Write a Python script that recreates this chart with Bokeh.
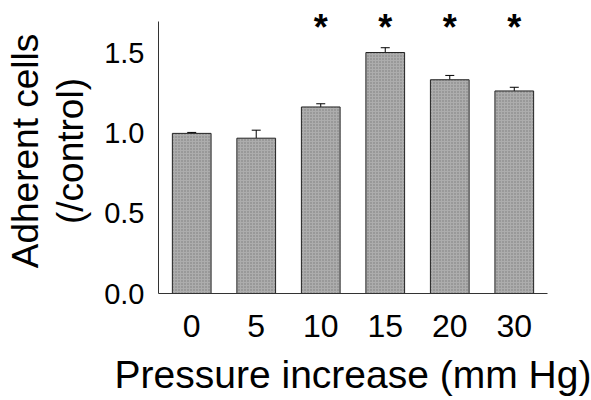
from bokeh.plotting import figure
from bokeh.models import (ColumnDataSource, FactorRange, Range1d, FixedTicker,
                          NumeralTickFormatter, Whisker, TeeHead)
from bokeh.core.properties import value
from bokeh.embed import file_html
from bokeh.resources import INLINE

pressure = ["0", "5", "10", "15", "20", "30"]
adherent = [1.00, 0.97, 1.165, 1.505, 1.335, 1.265]
sem = [0.006, 0.05, 0.02, 0.03, 0.027, 0.023]
signif = ["", "", "*", "*", "*", "*"]
star_level = 1.69
axis_top = 1.70
y_ticks = [0.0, 0.5, 1.0, 1.5]

upper = [a + e for a, e in zip(adherent, sem)]
star_y = [star_level] * len(pressure)
src = ColumnDataSource(dict(x=pressure, top=adherent, upper=upper,
                            sig=signif, sy=star_y))

FONT = "Liberation Sans"

p = figure(x_range=FactorRange(*pressure, range_padding=0.005),
           y_range=Range1d(0, 1.78),
           width=590, height=398, output_backend="svg",
           toolbar_location=None,
           min_border_left=158, min_border_right=43,
           min_border_top=8, min_border_bottom=105)

p.vbar(x="x", top="top", bottom=0, width=0.6, source=src,
       fill_color="#adadad", line_color="#222222", line_width=1,
       hatch_pattern="dot", hatch_color="#555555", hatch_scale=3,
       hatch_weight=1, hatch_alpha=0.6)

p.add_layout(Whisker(base="x", upper="upper", lower="top", source=src,
                     line_color="black", line_width=1,
                     upper_head=TeeHead(size=9, line_color="black", line_width=1),
                     lower_head=None))

p.text(x="x", y="sy", text="sig", source=src, text_align="center",
       text_baseline="middle", text_font=value(FONT),
       text_font_size="36px", text_font_style="bold",
       text_color="black", y_offset=5)

p.grid.visible = False
p.outline_line_color = None
p.background_fill_color = "white"
p.border_fill_color = "white"

for ax in (p.xaxis, p.yaxis):
    ax.major_tick_out = 0
    ax.major_tick_in = 0
    ax.minor_tick_out = 0
    ax.minor_tick_in = 0
    ax.axis_line_color = "#333333"
    ax.axis_line_width = 1
    ax.major_label_text_font = FONT
    ax.major_label_text_color = "black"
    ax.axis_label_text_font = FONT
    ax.axis_label_text_font_style = "normal"
    ax.axis_label_text_color = "black"
    ax.axis_label_text_font_size = "37px"

p.yaxis.ticker = FixedTicker(ticks=y_ticks)
p.yaxis.bounds = (0, axis_top)
p.yaxis.formatter = NumeralTickFormatter(format="0.0")
p.yaxis.major_label_text_font_size = "29px"
p.yaxis.major_label_standoff = 14
p.yaxis.axis_label = "Adherent cells\n(/control)"
p.yaxis.axis_label_text_line_height = 1.1
p.yaxis.axis_label_standoff = 10

p.xaxis.major_label_text_font_size = "32px"
p.xaxis.major_label_standoff = 21
p.xaxis.axis_label = "Pressure increase (mm Hg)"
p.xaxis.axis_label_text_font_size = "39px"
p.xaxis.axis_label_standoff = 13

open("out.html", "w").write(file_html(p, INLINE))
